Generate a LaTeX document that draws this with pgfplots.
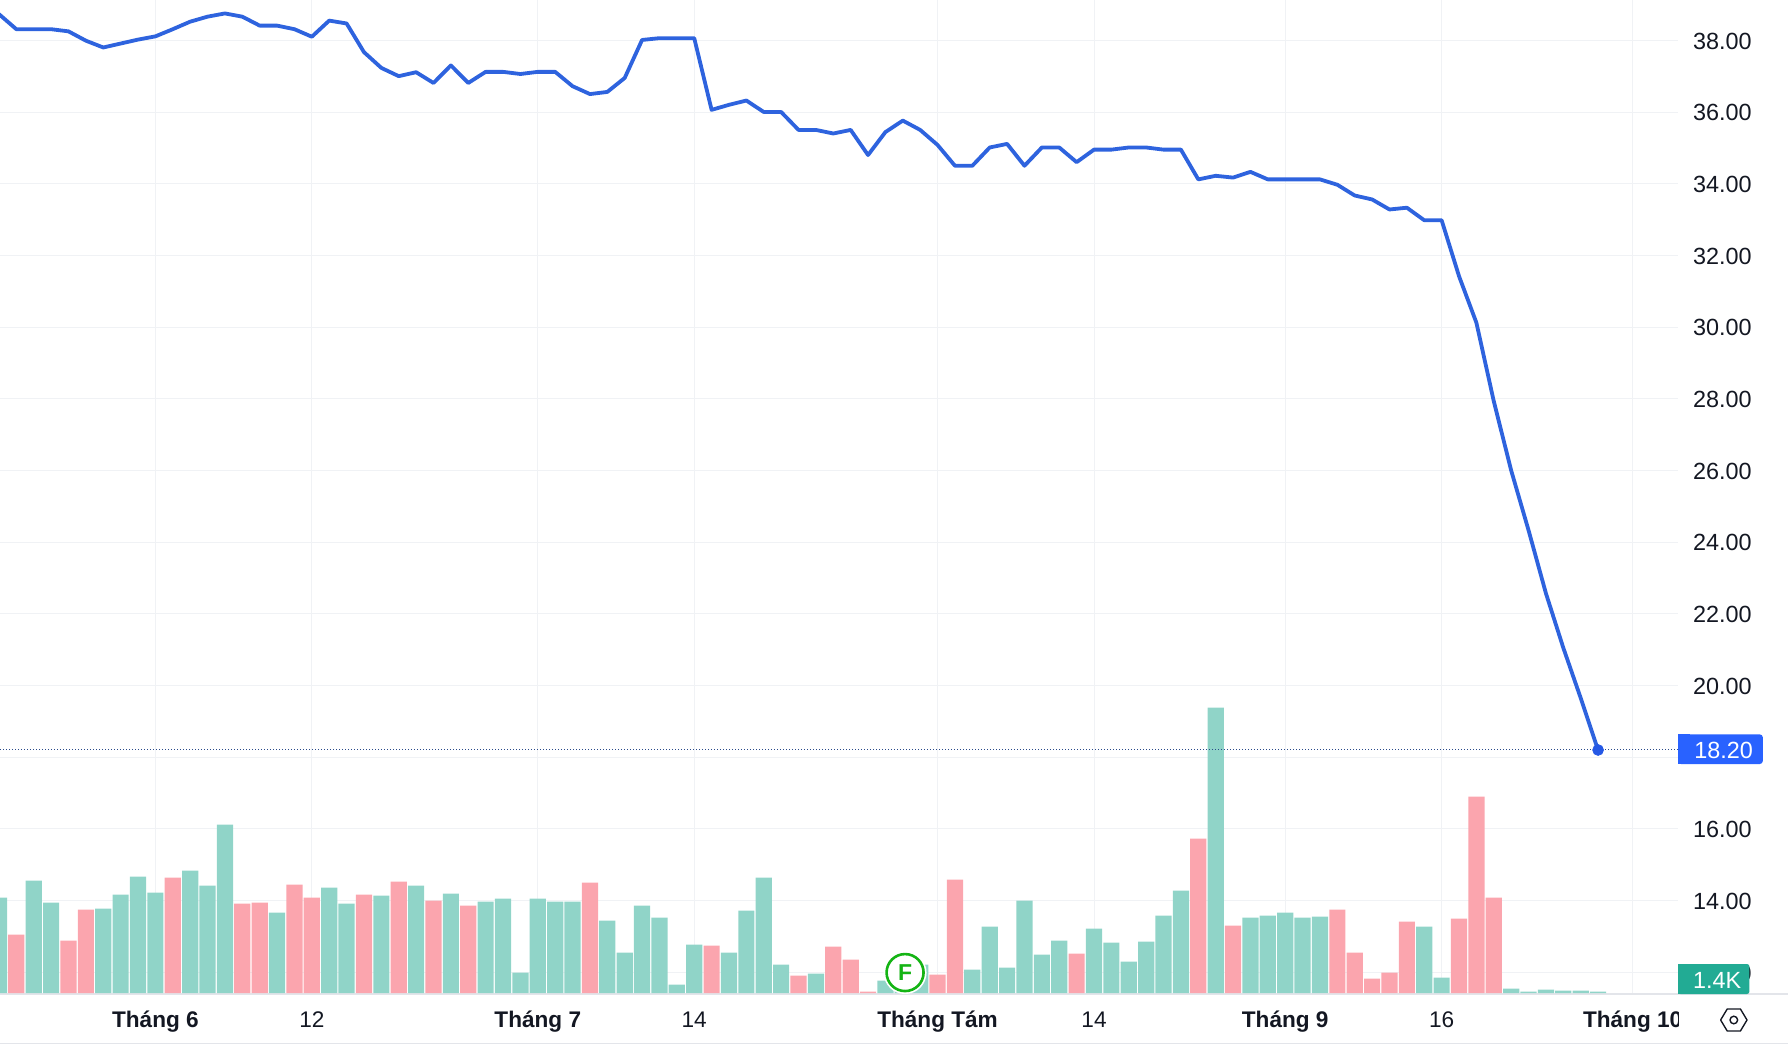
\documentclass[border=0pt]{standalone}
\usepackage{pgfplots}
\pgfplotsset{compat=1.18}
\usepackage{pgfplotstable}
\usepackage{fontspec}
\setmainfont{Liberation Sans}
\definecolor{txt}{HTML}{131722}
\definecolor{gridc}{HTML}{F0F2F5}
\definecolor{bord}{HTML}{E3E5EA}
\definecolor{upc}{HTML}{90D4C8}
\definecolor{dnc}{HTML}{FBA5AE}
\definecolor{linec}{HTML}{2E63DE}
\definecolor{tvblue}{HTML}{2962FF}
\definecolor{tvgreen}{HTML}{22AB94}
\definecolor{fgreen}{HTML}{14B414}
\definecolor{dotc}{HTML}{2A4A8A}

% price, one row per session
\pgfplotstableread{
k v
-9 38.73
-8 38.31
-7 38.31
-6 38.31
-5 38.25
-4 37.99
-3 37.80
-2 37.91
-1 38.02
0 38.11
1 38.31
2 38.52
3 38.66
4 38.75
5 38.66
6 38.41
7 38.41
8 38.31
9 38.10
10 38.55
11 38.47
12 37.67
13 37.23
14 37.00
15 37.11
16 36.81
17 37.30
18 36.81
19 37.12
20 37.12
21 37.06
22 37.12
23 37.12
24 36.72
25 36.50
26 36.56
27 36.95
28 38.01
29 38.06
30 38.06
31 38.06
32 36.06
33 36.20
34 36.32
35 36.00
36 36.00
37 35.50
38 35.50
39 35.40
40 35.50
41 34.80
42 35.44
43 35.76
44 35.50
45 35.08
46 34.50
47 34.50
48 35.01
49 35.11
50 34.50
51 35.01
52 35.01
53 34.60
54 34.95
55 34.95
56 35.01
57 35.01
58 34.95
59 34.95
60 34.12
61 34.22
62 34.17
63 34.33
64 34.12
65 34.12
66 34.12
67 34.12
68 33.97
69 33.67
70 33.56
71 33.28
72 33.33
73 32.98
74 32.98
75 31.42
76 30.12
77 27.93
78 26.00
79 24.33
80 22.57
81 21.05
82 19.65
83 18.20
}\pricetable

\pgfplotstableread{
k h
-9 95.3
-7 112.3
-6 90.3
-3 84.3
-2 98.3
-1 116.3
0 100.3
2 122.3
3 107.3
4 168.3
7 80.3
10 105.3
11 89.3
13 97.3
15 107.3
17 99.3
19 91.3
20 94.3
21 20.3
22 94.3
23 91.3
24 91.3
26 72.3
27 40.3
28 87.3
29 75.3
30 8.3
31 48.3
33 40.3
34 82.3
35 115.3
36 28.3
38 19.3
42 12.3
43 20.0
44 28.3
47 23.3
48 66.3
49 25.3
50 92.3
51 38.3
52 52.3
54 64.3
55 50.3
56 31.3
57 51.3
58 77.3
59 102.3
61 285.3
63 75.3
64 77.3
65 80.3
66 75.3
67 76.3
73 66.3
74 15.3
78 4.3
79 1.3
80 3.3
81 2.3
82 2.3
83 1.4
}\upvol

\pgfplotstableread{
k h
-8 58.3
-5 52.3
-4 83.3
1 115.3
5 89.3
6 90.3
8 108.3
9 95.3
12 98.3
14 111.3
16 92.3
18 87.3
25 110.3
32 47.3
37 17.3
39 46.3
40 33.3
41 1.3
45 18.3
46 113.3
53 39.3
60 154.3
62 67.3
68 83.3
69 40.3
70 14.3
71 20.3
72 71.3
75 74.3
76 196.3
77 95.3
}\downvol

\pgfplotsset{
  base/.style={
    scale only axis, width=839pt, height=496.5pt,
    xmin=-8.94, xmax=87.6,
  },
  priceaxis/.style={base, ymin=11.42, ymax=39.125},
}

\begin{document}
\begin{tikzpicture}[x=1pt,y=1pt]
\useasboundingbox (0,-26.5) rectangle (894,496.5);

% frame lines
\draw[bord,line width=0.8pt] (0,-0.5) -- (894,-0.5);
\draw[bord,line width=0.9pt] (0,-25.2) -- (894,-25.2);

% grid and tick labels
\begin{axis}[priceaxis,
  axis line style={draw=none},
  major tick length=0pt,
  tick style={draw=none},
  grid=both,
  major grid style={gridc,line width=0.5pt},
  xtick={0,9,22,31,45,54,65,74,85},
  xticklabels={\textbf{Tháng 6},12,\textbf{Tháng 7},14,\textbf{Tháng Tám},14,\textbf{Tháng 9},16,{}},
  ytick={12,14,...,38},
  yticklabels={12.00,14.00,16.00,{},20.00,22.00,24.00,26.00,28.00,30.00,32.00,34.00,36.00,38.00},
  yticklabel pos=right,
  yticklabel style={anchor=west,xshift=4pt,yshift=-0.4pt,font=\fontsize{11.7}{13}\selectfont,text=txt},
  xticklabel style={font=\fontsize{11.3}{13}\selectfont,text=txt,anchor=base,yshift=-17.4pt},
]
\end{axis}

% volume
\begin{axis}[base, hide axis, ymin=0, ymax=993]
\addplot[ybar,bar width=8.1pt,bar shift=0pt,fill=upc,draw=none] table[x=k,y=h] {\upvol};
\addplot[ybar,bar width=8.1pt,bar shift=0pt,fill=dnc,draw=none] table[x=k,y=h] {\downvol};
\end{axis}

% price
\begin{axis}[priceaxis, hide axis]
\addplot[dotc,line width=0.5pt,densely dotted] coordinates {(-8.94,18.2) (87.6,18.2)};
\addplot[linec,line width=1.9pt,line join=round] table[x=k,y=v] {\pricetable};
\addplot[only marks,mark=*,mark size=2.7pt,tvblue!90!black,mark options={draw=none}] coordinates {(83,18.2)};
\node[circle,draw=white,line width=1pt,minimum size=20.5pt,inner sep=0pt,fill=none] at (axis cs:43.13,11.99) {};
\node[circle,draw=fgreen,fill=white,line width=1.3pt,minimum size=18.5pt,inner sep=0pt,text=fgreen,font=\fontsize{11.5}{13}\bfseries\selectfont] at (axis cs:43.13,11.99) {F};
\end{axis}

% clipped last date label
\begin{scope}
\clip (700,-25) rectangle (839,0);
\node[text=txt,font=\fontsize{11.3}{13}\selectfont\bfseries,anchor=base] at (816.3,-17.4) {Tháng 10};
\end{scope}

% price badges
\fill[tvblue,rounded corners=1.5pt] (839,114.5) rectangle (881.4,129.3);
\fill[tvblue] (839,114.5) rectangle (845,129.3);
\node[text=white,font=\fontsize{11.7}{13}\selectfont] at (861.8,121.4) {18.20};
\fill[tvgreen,rounded corners=1.2pt] (839,-0.5) rectangle (874.7,14.5);
\fill[tvgreen] (839,-0.5) rectangle (845,14.5);
\node[text=white,font=\fontsize{11.7}{13}\selectfont] at (858.6,6.4) {1.4K};

% settings icon
\draw[txt,line width=0.7pt,line join=round]
  (860.3,-13.5) -- (863.6,-8) -- (870.2,-8) -- (873.5,-13.5) -- (870.2,-19) -- (863.6,-19) -- cycle;
\draw[txt,line width=0.7pt] (866.9,-13.5) circle (1.9pt);
\end{tikzpicture}
\end{document}
